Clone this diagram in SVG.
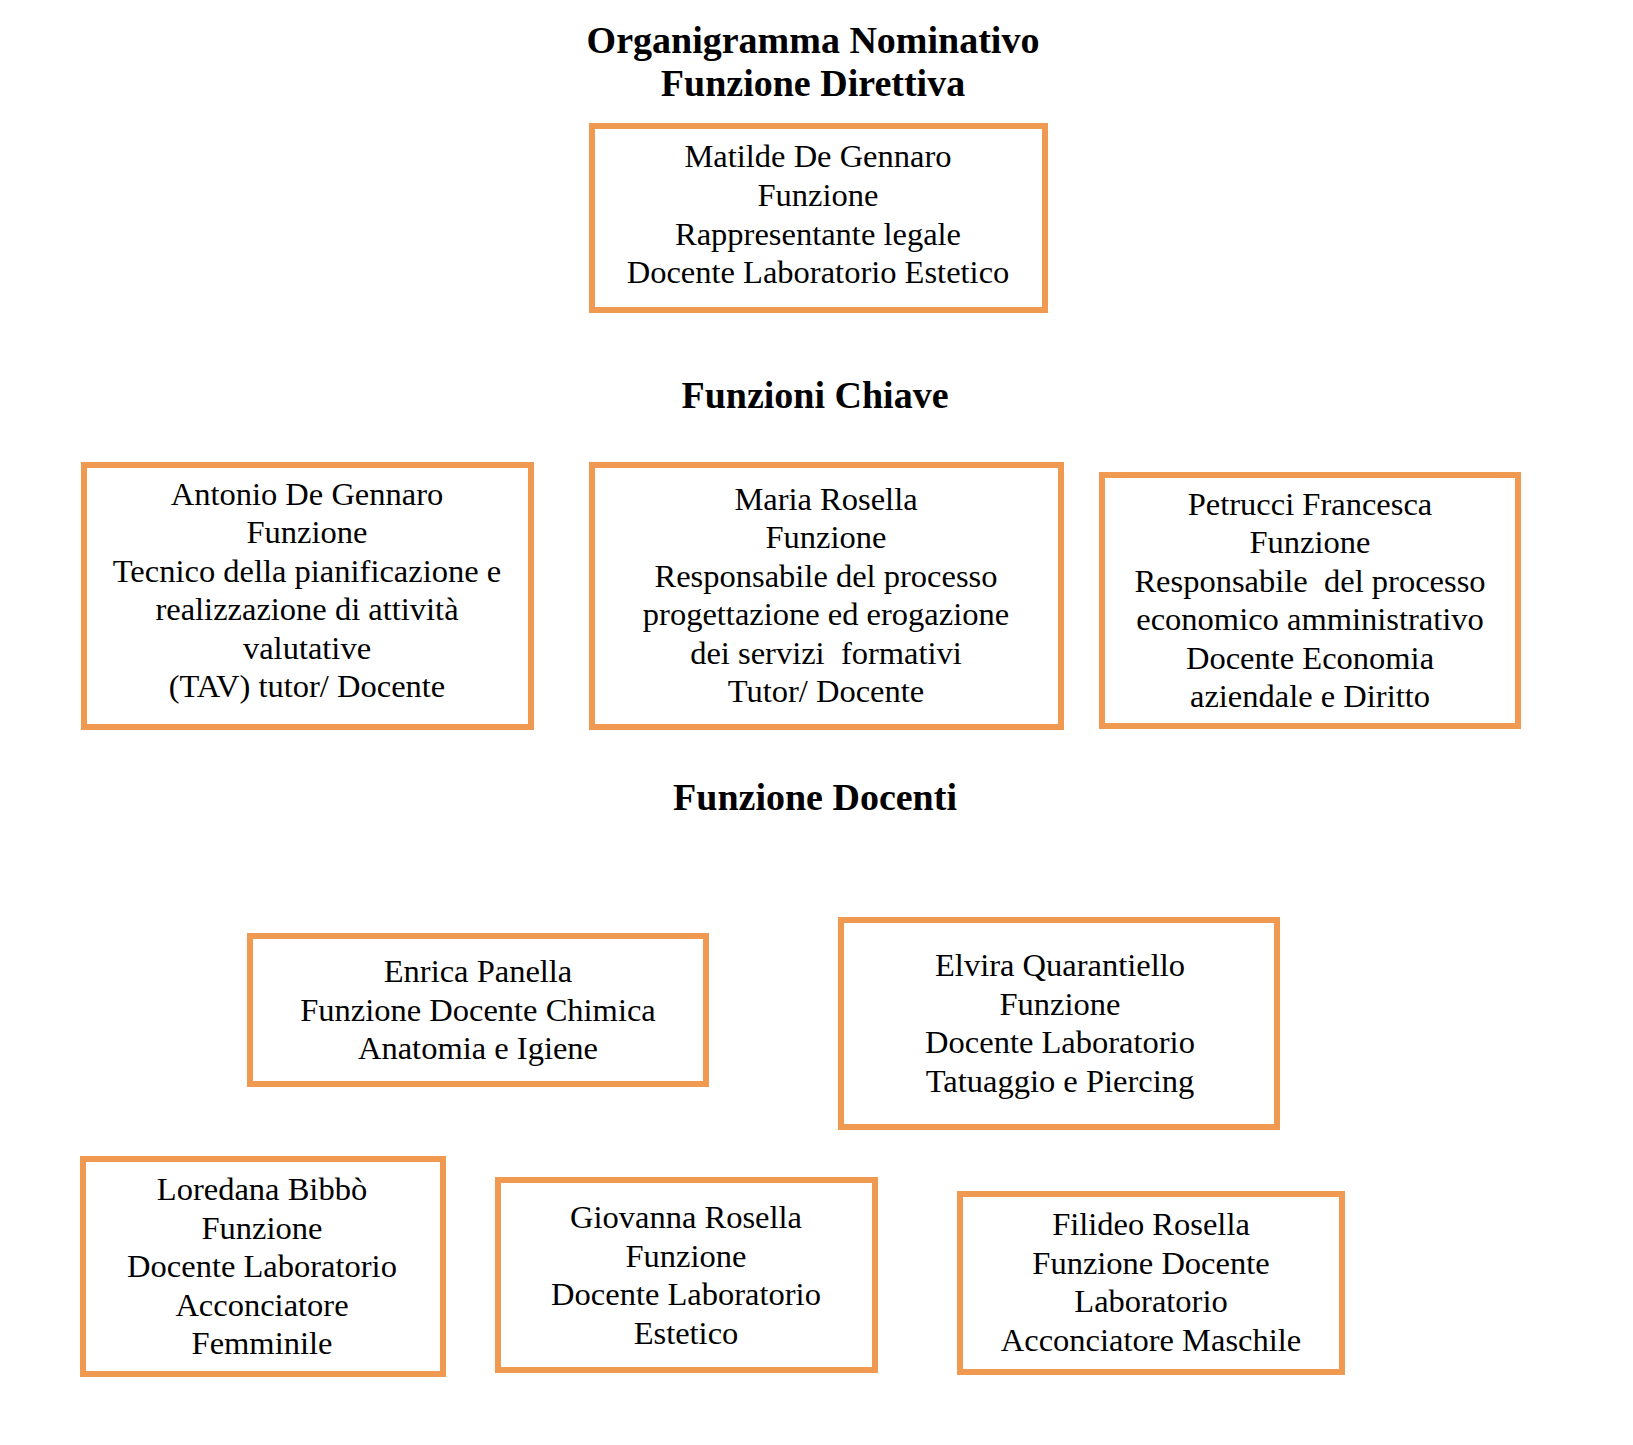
<svg xmlns="http://www.w3.org/2000/svg" width="1633" height="1445" viewBox="0 0 1633 1445">
<style>
.box{fill:#ffffff;stroke:#EF9A50;stroke-width:6}
.t{font-family:"Liberation Serif","Times New Roman",serif;font-size:32.5px;fill:#000;text-anchor:middle}
.h{font-family:"Liberation Serif","Times New Roman",serif;font-size:38px;font-weight:bold;fill:#000;text-anchor:middle}
</style>
<rect width="1633" height="1445" fill="#ffffff"/>
<g id="headings">
<text class="h" x="813" y="53">Organigramma Nominativo</text>
<text class="h" x="813" y="96">Funzione Direttiva</text>
<text class="h" x="815" y="408">Funzioni Chiave</text>
<text class="h" x="815" y="810">Funzione Docenti</text>
</g>
<g id="connectors"></g>
<g id="n-matilde">
<rect class="box" x="592" y="126" width="453" height="184"/>
<text class="t" x="818" y="167">Matilde De Gennaro</text>
<text class="t" x="818" y="206">Funzione</text>
<text class="t" x="818" y="244.5">Rappresentante legale</text>
<text class="t" x="818" y="283">Docente Laboratorio Estetico</text>
</g>
<g id="n-antonio">
<rect class="box" x="84" y="465" width="447" height="262"/>
<text class="t" x="307" y="505">Antonio De Gennaro</text>
<text class="t" x="307" y="543.4">Funzione</text>
<text class="t" x="307" y="581.8">Tecnico della pianificazione e</text>
<text class="t" x="307" y="620.2">realizzazione di attività</text>
<text class="t" x="307" y="658.6">valutative</text>
<text class="t" x="307" y="697">(TAV) tutor/ Docente</text>
</g>
<g id="n-maria">
<rect class="box" x="592" y="465" width="469" height="262"/>
<text class="t" x="826" y="510">Maria Rosella</text>
<text class="t" x="826" y="548.4">Funzione</text>
<text class="t" x="826" y="586.8">Responsabile del processo</text>
<text class="t" x="826" y="625.2">progettazione ed erogazione</text>
<text class="t" x="826" y="663.6" xml:space="preserve">dei servizi  formativi</text>
<text class="t" x="826" y="702">Tutor/ Docente</text>
</g>
<g id="n-petrucci">
<rect class="box" x="1102" y="475" width="416" height="251"/>
<text class="t" x="1310" y="515">Petrucci Francesca</text>
<text class="t" x="1310" y="553.4">Funzione</text>
<text class="t" x="1310" y="591.8" xml:space="preserve">Responsabile  del processo</text>
<text class="t" x="1310" y="630.2">economico amministrativo</text>
<text class="t" x="1310" y="668.6">Docente Economia</text>
<text class="t" x="1310" y="707">aziendale e Diritto</text>
</g>
<g id="n-enrica">
<rect class="box" x="250" y="936" width="456" height="148"/>
<text class="t" x="478" y="982">Enrica Panella</text>
<text class="t" x="478" y="1020.5">Funzione Docente Chimica</text>
<text class="t" x="478" y="1059">Anatomia e Igiene</text>
</g>
<g id="n-elvira">
<rect class="box" x="841" y="920" width="436" height="207"/>
<text class="t" x="1060" y="976">Elvira Quarantiello</text>
<text class="t" x="1060" y="1014.5">Funzione</text>
<text class="t" x="1060" y="1053">Docente Laboratorio</text>
<text class="t" x="1060" y="1091.5">Tatuaggio e Piercing</text>
</g>
<g id="n-loredana">
<rect class="box" x="83" y="1159" width="360" height="215"/>
<text class="t" x="262" y="1200">Loredana Bibbò</text>
<text class="t" x="262" y="1238.5">Funzione</text>
<text class="t" x="262" y="1277">Docente Laboratorio</text>
<text class="t" x="262" y="1315.5">Acconciatore</text>
<text class="t" x="262" y="1354">Femminile</text>
</g>
<g id="n-giovanna">
<rect class="box" x="498" y="1180" width="377" height="190"/>
<text class="t" x="686" y="1228">Giovanna Rosella</text>
<text class="t" x="686" y="1266.5">Funzione</text>
<text class="t" x="686" y="1305">Docente Laboratorio</text>
<text class="t" x="686" y="1343.5">Estetico</text>
</g>
<g id="n-filideo">
<rect class="box" x="960" y="1194" width="382" height="178"/>
<text class="t" x="1151" y="1235">Filideo Rosella</text>
<text class="t" x="1151" y="1273.5">Funzione Docente</text>
<text class="t" x="1151" y="1312">Laboratorio</text>
<text class="t" x="1151" y="1350.5">Acconciatore Maschile</text>
</g>
</svg>
